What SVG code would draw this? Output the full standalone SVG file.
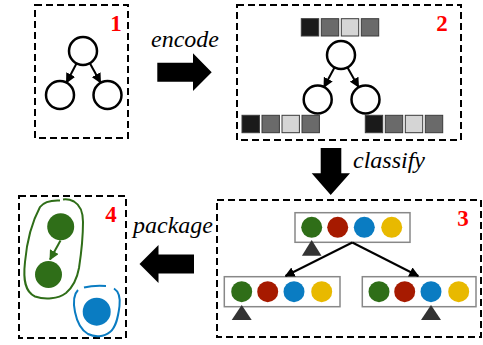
<svg xmlns="http://www.w3.org/2000/svg" width="483" height="345" viewBox="0 0 483 345">
<defs>
<style>
.box{fill:none;stroke:#000;stroke-width:2;stroke-dasharray:7,4}
.num{font-family:"Liberation Serif",serif;font-weight:bold;font-size:23px;fill:#ff0000;text-anchor:middle}
.lbl{font-family:"Liberation Serif",serif;font-style:italic;font-size:24px;fill:#000}
.node{fill:#fff;stroke:#000;stroke-width:2.5}
.edge{stroke:#000;stroke-width:2;fill:none;marker-end:url(#ah)}
.sq{stroke:#3a3a3a;stroke-width:1}
.k{fill:#1a1a1a}.m{fill:#6a6a6a}.l{fill:#d5d5d5}
.rect{fill:#fff;stroke:#888;stroke-width:1.5}
.g{fill:#2f6e18}.r{fill:#a61a00}.b{fill:#0a7cc2}.y{fill:#e8b900}
.tri{fill:#333}
.big{fill:#000}
</style>
<marker id="ah" viewBox="0 0 10 10" refX="9" refY="5" markerWidth="5" markerHeight="5" orient="auto">
<path d="M0,0 L10,5 L0,10 z" fill="#000"/>
</marker>
<marker id="ahg" viewBox="0 0 10 10" refX="9" refY="5" markerWidth="5" markerHeight="5" orient="auto">
<path d="M0,0 L10,5 L0,10 z" fill="#2f6e18"/>
</marker>
</defs>

<g id="panel1">
<rect class="box" x="35" y="5" width="93" height="133"/>
<text class="num" x="116" y="31">1</text>
<circle class="node" cx="83" cy="51" r="14"/>
<circle class="node" cx="60" cy="95" r="14"/>
<circle class="node" cx="107.5" cy="95" r="14"/>
</g>

<g id="panel2">
<rect class="box" x="237" y="5" width="224" height="135"/>
<text class="num" x="442" y="31">2</text>
<rect class="sq k" x="301.3" y="18.7" width="17.4" height="17.3"/>
<rect class="sq m" x="321.3" y="18.7" width="17.4" height="17.3"/>
<rect class="sq l" x="341.3" y="18.7" width="17.4" height="17.3"/>
<rect class="sq m" x="361.3" y="18.7" width="17.4" height="17.3"/>
<circle class="node" cx="341" cy="55" r="14"/>
<circle class="node" cx="317.7" cy="99.5" r="14"/>
<circle class="node" cx="365.5" cy="99.5" r="14"/>
<rect class="sq k" x="242" y="115.3" width="17.4" height="17.4"/>
<rect class="sq m" x="262" y="115.3" width="17.4" height="17.4"/>
<rect class="sq l" x="282" y="115.3" width="17.4" height="17.4"/>
<rect class="sq m" x="302" y="115.3" width="17.4" height="17.4"/>
<rect class="sq k" x="365.3" y="115.3" width="17.4" height="17.4"/>
<rect class="sq m" x="385.3" y="115.3" width="17.4" height="17.4"/>
<rect class="sq l" x="405.3" y="115.3" width="17.4" height="17.4"/>
<rect class="sq m" x="425.3" y="115.3" width="17.4" height="17.4"/>
</g>

<g id="panel3">
<rect class="box" x="217" y="200" width="264" height="137"/>
<text class="num" x="463" y="226">3</text>
<rect class="rect" x="295" y="212.7" width="115" height="29.6"/>
<circle class="g" cx="311.7" cy="227.3" r="10.5"/>
<circle class="r" cx="337.7" cy="227.3" r="10.5"/>
<circle class="b" cx="364.3" cy="227.3" r="10.5"/>
<circle class="y" cx="391.7" cy="227.3" r="10.5"/>
<polygon class="tri" points="311.7,240 321.5,255.7 301.9,255.7"/>
<rect class="rect" x="224.3" y="276.7" width="115.7" height="30"/>
<circle class="g" cx="241.7" cy="291.7" r="10.5"/>
<circle class="r" cx="267.7" cy="291.7" r="10.5"/>
<circle class="b" cx="294" cy="291.7" r="10.5"/>
<circle class="y" cx="321.7" cy="291.7" r="10.5"/>
<polygon class="tri" points="241.7,305 251.7,320 231.7,320"/>
<rect class="rect" x="362.3" y="276.7" width="113.7" height="30"/>
<circle class="g" cx="379" cy="291.7" r="10.5"/>
<circle class="r" cx="404.7" cy="291.7" r="10.5"/>
<circle class="b" cx="431" cy="291.7" r="10.5"/>
<circle class="y" cx="458.7" cy="291.7" r="10.5"/>
<polygon class="tri" points="431,305 441,320 421,320"/>
</g>

<g id="panel4">
<rect class="box" x="19" y="196" width="107" height="142"/>
<text class="num" x="111" y="222">4</text>
<path d="M60,200.5 C50,200 43,203 40,207 C33,220 27,240 25,262 C23,280 25,292 35,296.5 C45,300 58,299 66,293 C73,287 77,279 79,268 C81,255 83,235 83,222 C83,212 80,205 74,201.5 C70,199.5 66,199 63,199.5" fill="none" stroke="#2f6e18" stroke-width="2"/>
<circle class="g" cx="60.7" cy="226.7" r="13.5"/>
<circle class="g" cx="48.5" cy="274.5" r="13.5"/>
<line x1="60.5" y1="240.5" x2="50" y2="259.5" stroke="#2f6e18" stroke-width="2" marker-end="url(#ahg)"/>
<path d="M78,290 C74,294 73,302 75,312 C77,322 81,330 88,334 C95,337.5 104,337 110,332 C116,327 118,318 119.5,306 C120.5,297 118,291 114,288.5 M106,286 C98,285.5 90,286 84,287.5" fill="none" stroke="#0a7cc2" stroke-width="2"/>
<circle class="b" cx="96.7" cy="311.7" r="14"/>
</g>

<g id="connectors">
<line class="edge" x1="76.5" y1="63.5" x2="66.5" y2="82.5"/>
<line class="edge" x1="90" y1="63.5" x2="100.5" y2="82.5"/>
<line class="edge" x1="334.5" y1="67.5" x2="324" y2="87"/>
<line class="edge" x1="347.5" y1="67.5" x2="358.5" y2="87"/>
<line class="edge" x1="352.3" y1="242.5" x2="285.5" y2="276"/>
<line class="edge" x1="352.3" y1="242.5" x2="418.3" y2="276"/>
<polygon class="big" points="157.3,62.7 193,62.7 193,53.3 211.7,72.2 193,91 193,81.7 157.3,81.7"/>
<polygon class="big" points="320.7,148 341.3,148 341.3,173.3 350,173.3 330.7,195 311.7,173.3 320.7,173.3"/>
<polygon class="big" points="194,254.5 158.5,254.5 158.5,245 139.5,264 158.5,283 158.5,273.5 194,273.5"/>
<text class="lbl" x="151" y="47">encode</text>
<text class="lbl" x="353" y="168">classify</text>
<text class="lbl" x="133" y="233">package</text>
</g>
</svg>
